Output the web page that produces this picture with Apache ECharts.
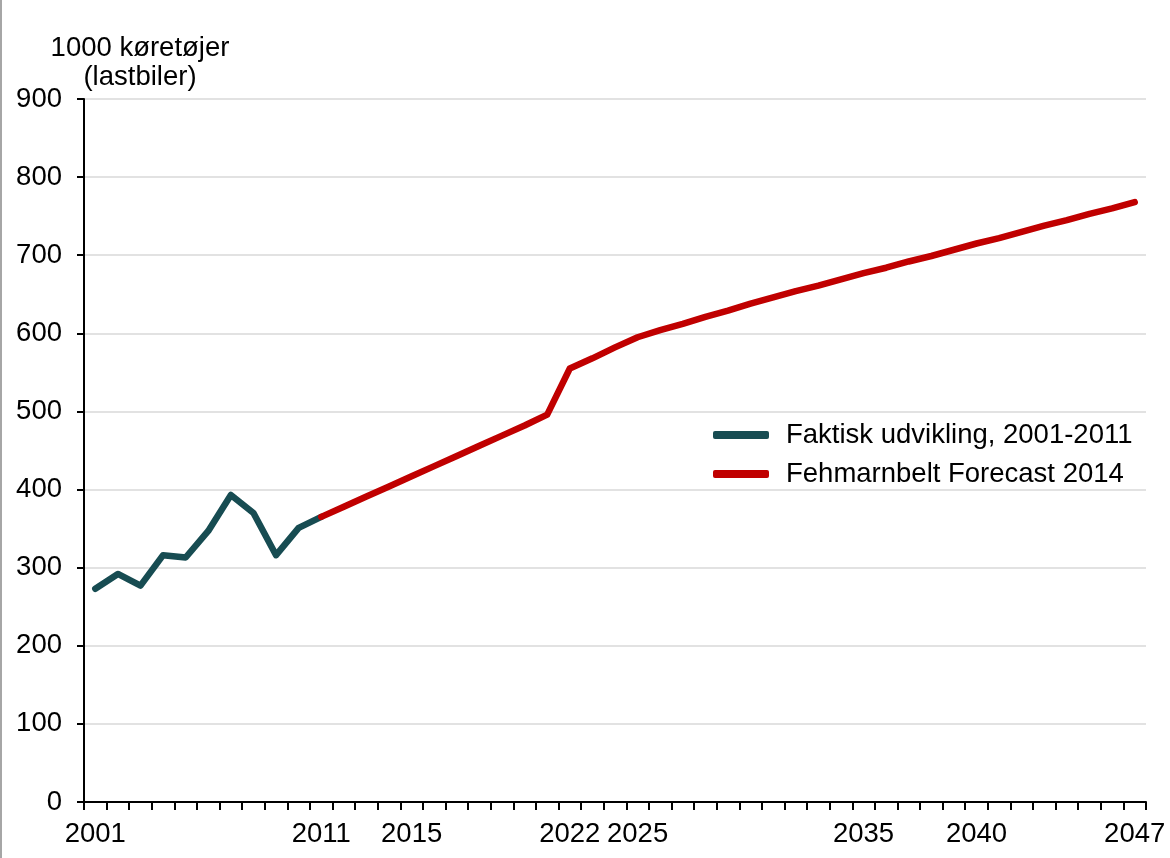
<!DOCTYPE html>
<html>
<head>
<meta charset="utf-8">
<script src="https://cdn.jsdelivr.net/npm/echarts@6/dist/echarts.min.js"></script>
<style>
html,body{margin:0;padding:0;background:#fff;}
#c{width:1170px;height:858px;}
</style>
</head>
<body>
<div id="c"></div>
<script>
var years = [];
for (var y = 2001; y <= 2047; y++) years.push(String(y));
var shownLabels = ['2001','2011','2015','2022','2025','2035','2040','2047'];
var actualName = 'Faktisk udvikling, 2001-2011';
var forecastName = 'Fehmarnbelt Forecast 2014';
// 2001-2011
var actualValues = [273, 292, 277, 316, 313, 347, 393, 370, 316, 351, 365];
// 2011-2047
var forecastValues = [365, 378, 391, 404, 417, 430, 443, 456, 469, 482, 496,
  555, 568, 582, 595, 604, 612, 621, 629, 638, 646, 654, 661, 669, 677,
  684, 692, 699, 707, 715, 722, 730, 738, 745, 753, 760, 768];
var yTitle = '1000 køretøjer\n(lastbiler)';

var actualSeries = actualValues.slice();
while (actualSeries.length < years.length) actualSeries.push(null);
var forecastSeries = [];
for (var i = 0; i < years.length - forecastValues.length; i++) forecastSeries.push(null);
forecastSeries = forecastSeries.concat(forecastValues);

var FONT = 'Liberation Sans, Arial, sans-serif';
var FS = 27.5;
var chart = echarts.init(document.getElementById('c'), null, {renderer: 'canvas'});
chart.setOption({
  backgroundColor: '#fff',
  animation: false,
  textStyle: {fontFamily: FONT},
  grid: {left: 84, right: 24, top: 99, bottom: 56},
  graphic: [
    {type: 'rect', shape: {x: 0, y: 0, width: 2, height: 858}, style: {fill: '#a6a6a6'}},
    {type: 'text', x: 140, y: 34, style: {text: yTitle, fontFamily: FONT, fontSize: FS, fill: '#000', textAlign: 'center', lineHeight: 29}}
  ],
  legend: {
    orient: 'vertical',
    left: 708, top: 415,
    itemWidth: 56, itemHeight: 8,
    itemGap: 9,
    icon: 'roundRect',
    textStyle: {fontFamily: FONT, fontSize: FS, color: '#000', padding: [0, 0, 0, 12], lineHeight: 30},
    data: [actualName, forecastName]
  },
  xAxis: {
    type: 'category',
    data: years,
    boundaryGap: true,
    axisLine: {show: true, lineStyle: {color: '#000', width: 2}},
    axisTick: {show: true, interval: 0, inside: false, length: 8, lineStyle: {color: '#000', width: 2}},
    axisLabel: {
      interval: function (idx, val) { return shownLabels.indexOf(val) >= 0; },
      fontFamily: FONT, fontSize: FS, color: '#000', margin: 18
    },
    splitLine: {show: false}
  },
  yAxis: {
    type: 'value',
    min: 0, max: 900, interval: 100,
    axisLine: {show: true, lineStyle: {color: '#000', width: 2}},
    axisTick: {show: true, inside: false, length: 7, lineStyle: {color: '#000', width: 2}},
    axisLabel: {fontFamily: FONT, fontSize: FS, color: '#000', margin: 22},
    splitLine: {lineStyle: {color: '#d9d9d9', width: 1.5}}
  },
  series: [
    {
      name: actualName, type: 'line', data: actualSeries,
      showSymbol: false, symbol: 'none',
      itemStyle: {color: '#174c52'},
      lineStyle: {color: '#174c52', width: 6.5, cap: 'round', join: 'round'}
    },
    {
      name: forecastName, type: 'line', data: forecastSeries,
      showSymbol: false, symbol: 'none',
      itemStyle: {color: '#c00000'},
      lineStyle: {color: '#c00000', width: 6.5, cap: 'round', join: 'round'}
    }
  ]
});
</script>
</body>
</html>
